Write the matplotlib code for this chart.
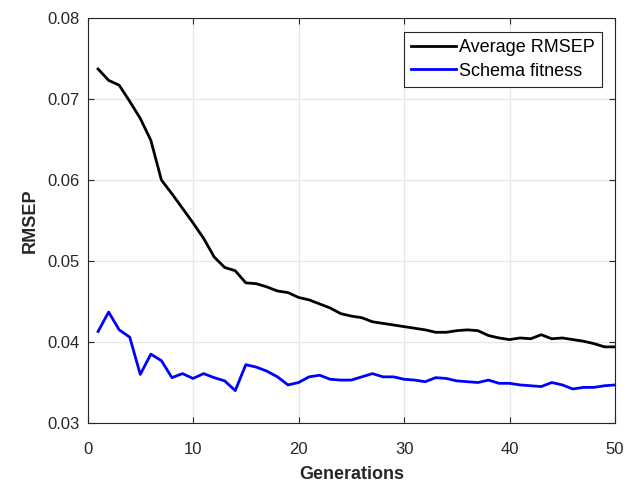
import matplotlib
matplotlib.use("Agg")
import matplotlib.pyplot as plt

plt.rcParams['font.family'] = ['Liberation Sans', 'DejaVu Sans']

generations = list(range(1, 51))
avg_rmsep = [0.0737, 0.0723, 0.0717, 0.0697, 0.0676, 0.0649, 0.0600, 0.0583, 0.0565, 0.0547,
             0.0528, 0.0505, 0.0492, 0.0488, 0.0473, 0.0472, 0.0468, 0.0463, 0.0461, 0.0455,
             0.0452, 0.0447, 0.0442, 0.0435, 0.0432, 0.0430, 0.0425, 0.0423, 0.0421, 0.0419,
             0.0417, 0.0415, 0.0412, 0.0412, 0.0414, 0.0415, 0.0414, 0.0408, 0.0405, 0.0403,
             0.0405, 0.0404, 0.0409, 0.0404, 0.0405, 0.0403, 0.0401, 0.0398, 0.0394, 0.0394]
schema_fitness = [0.0413, 0.0437, 0.0415, 0.0406, 0.0360, 0.0385, 0.0377, 0.0356, 0.0361, 0.0355,
                  0.0361, 0.0356, 0.0352, 0.0340, 0.0372, 0.0369, 0.0364, 0.0357, 0.0347, 0.0350,
                  0.0357, 0.0359, 0.0354, 0.0353, 0.0353, 0.0357, 0.0361, 0.0357, 0.0357, 0.0354,
                  0.0353, 0.0351, 0.0356, 0.0355, 0.0352, 0.0351, 0.0350, 0.0353, 0.0349, 0.0349,
                  0.0347, 0.0346, 0.0345, 0.0350, 0.0347, 0.0342, 0.0344, 0.0344, 0.0346, 0.0347]

axis_col = '#262626'

fig = plt.figure(figsize=(6.27, 4.86), dpi=100)
ax = fig.add_axes([0.1396, 0.1296, 0.8414, 0.8334])

ax.plot(generations, avg_rmsep, color='black', lw=2, label='Average RMSEP')
ax.plot(generations, schema_fitness, color='#0000ff', lw=2, label='Schema fitness')

ax.set_xlim(0, 50)
ax.set_ylim(0.03, 0.08)
ax.set_xticks([0, 10, 20, 30, 40, 50])
ax.set_yticks([0.03, 0.04, 0.05, 0.06, 0.07, 0.08])
ax.set_yticklabels(['0.03', '0.04', '0.05', '0.06', '0.07', '0.08'])
ax.grid(True, color='#e6e6e6', lw=0.9)
ax.set_axisbelow(True)
ax.tick_params(direction='in', length=4, width=0.8, colors=axis_col, labelsize=12,
               top=True, right=True)
ax.tick_params(axis='x', pad=14)
ax.tick_params(axis='y', pad=6)
for s in ax.spines.values():
    s.set_color(axis_col)
    s.set_linewidth(0.8)

ax.set_xlabel('Generations', fontsize=13, fontweight='bold', color=axis_col, labelpad=6)
ax.set_ylabel('RMSEP', fontsize=13, fontweight='bold', color=axis_col, labelpad=6)

leg = ax.legend(loc='upper right', bbox_to_anchor=(0.975, 0.965), fontsize=13,
                fancybox=False, framealpha=1, edgecolor=axis_col, handlelength=2.5,
                handletextpad=0.15, borderpad=0.4, labelspacing=0.35, borderaxespad=0)
leg.get_frame().set_linewidth(0.8)

fig.savefig('out.png', dpi=100)
